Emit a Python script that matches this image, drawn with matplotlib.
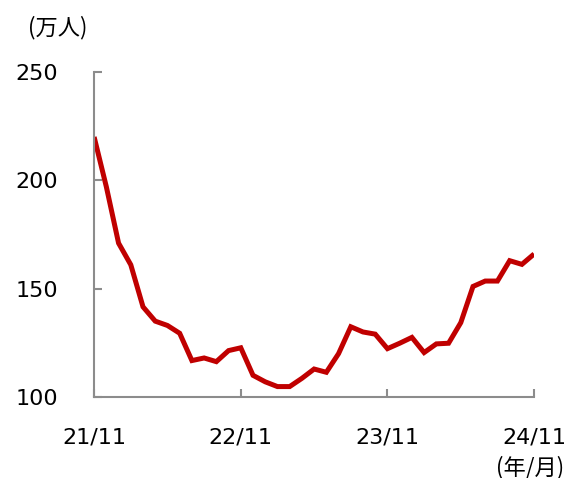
import matplotlib.pyplot as plt

plt.rcParams['font.family'] = ['DejaVu Sans', 'Noto Sans CJK JP']

# monthly values, 21/11 .. 24/11 (万人)
values = [220, 197, 171, 161, 141.6, 135, 133, 129.4, 116.8, 118, 116.3, 121.4,
          122.7, 110, 107, 104.8, 104.8, 108.6, 112.9, 111.4, 120, 132.4, 130, 129,
          122.3, 124.8, 127.5, 120.5, 124.5, 124.8, 134.3, 151, 153.5, 153.5,
          162.9, 161.2, 166]
tick_pos = [0, 12, 24, 36]
tick_labels = ['21/11', '22/11', '23/11', '24/11']
y_ticks = [100, 150, 200, 250]

fig = plt.figure(figsize=(5.67, 4.78), dpi=100)
ax = fig.add_axes([0.166, 0.1695, 0.776, 0.680])

ax.plot(range(len(values)), values, color='#C00000', linewidth=3.6,
        solid_joinstyle='miter', solid_capstyle='butt')

ax.set_xlim(0, 36)
ax.set_ylim(100, 250)
ax.set_xticks(tick_pos)
ax.set_xticklabels(tick_labels)
ax.set_yticks(y_ticks)

for side in ['top', 'right']:
    ax.spines[side].set_visible(False)
for side in ['left', 'bottom']:
    ax.spines[side].set_color('#8c8c8c')
    ax.spines[side].set_linewidth(1.5)

ax.tick_params(axis='both', direction='in', length=6, width=1.5,
               color='#8c8c8c', labelsize=16, labelcolor='black')
ax.tick_params(axis='y', pad=26)
ax.tick_params(axis='x', pad=22)

fig.text(0.049, 0.942, '(万人)', fontsize=16, family=['Noto Sans CJK JP'],
         va='center', ha='left')
fig.text(0.995, 0.022, '(年/月)', fontsize=16, family=['Noto Sans CJK JP'],
         va='center', ha='right')

fig.savefig('out.png', dpi=100)
